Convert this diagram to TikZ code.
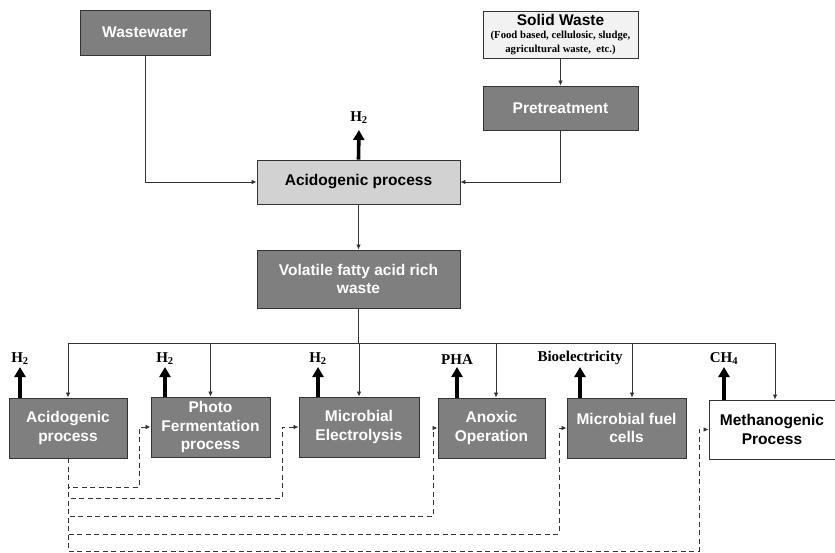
\documentclass[tikz,border=0pt]{standalone}
\usepackage{fontspec}
\setmainfont{Liberation Serif}
\setsansfont{Liberation Sans}
\usepackage{xcolor}
\usetikzlibrary{arrows.meta,positioning}

\definecolor{boxgray}{HTML}{7F7F7F}
\definecolor{boxlight}{HTML}{D2D2D2}
\definecolor{boxpale}{HTML}{F2F2F2}
\definecolor{edgegray}{HTML}{333333}
\newcommand\wastefont{\rmfamily\bfseries\fontsize{10.7}{13.3}\selectfont}

\tikzset{
 procbox/.style={draw=edgegray,line width=0.9pt,fill=boxgray,text=white,align=center,inner sep=1pt,
  font=\sffamily\bfseries\fontsize{15.5}{18.5}\selectfont},
 lightbox/.style={procbox,fill=boxlight,text=black},
 whitebox/.style={procbox,fill=white,text=black},
 flow/.style={draw=edgegray,line width=0.8pt,-{Latex[length=5pt,width=4.5pt]}},
 recycle/.style={flow,dash pattern=on 5pt off 3.5pt},
 gas/.style={draw=black,line width=3.6pt,-{Triangle[length=10pt,width=11pt]},shorten >=1pt},
 gaslabel/.style={font=\bfseries\fontsize{15}{17}\selectfont,inner sep=1pt,anchor=south}
}

\begin{document}
\begin{tikzpicture}[x=1pt,y=-1pt]
 \useasboundingbox (0,0) rectangle (835,552);
 % feed and first stage
 \node[procbox,minimum width=130pt,minimum height=45pt] (ww) at (145,32.5) {Wastewater};
 \node[procbox,fill=boxpale,text=black,font=\wastefont,minimum width=155pt,minimum height=47pt] (solid) at (560.5,34.5)
  {{\sffamily\fontsize{15.5}{13.3}\selectfont Solid Waste}\\(Food based, cellulosic, sludge,\\agricultural waste,~ etc.)};
 \node[procbox,minimum width=155pt,minimum height=44pt] (pre) at (560.5,108) {Pretreatment};
 \node[lightbox,minimum width=203pt,minimum height=44pt] (acid) at (358.5,182) {Acidogenic process};
 \node[procbox,minimum width=203pt,minimum height=58pt] (vfa) at (358.5,279) {Volatile fatty acid rich\\waste};
 \node[gaslabel] (h2top) at (359,125) {H\textsubscript{2}};

 \draw[flow] (ww.south) |- (acid.west);
 \draw[flow] (solid) -- (pre);
 \draw[flow] (pre.south) |- (acid.east);
 \draw[flow] (acid) -- (vfa);
 \draw[gas,shorten >=5pt] (acid.north) -- (h2top.south);

 % second stage
 \node[procbox,minimum width=118pt,minimum height=60pt] (acid2) at (68,428) {Acidogenic\\process};
 \node[procbox,minimum width=119pt,minimum height=60pt] (photo) at (210.5,427) {Photo\\Fermentation\\process};
 \node[procbox,minimum width=120pt,minimum height=60pt] (mec) at (359,427) {Microbial\\Electrolysis};
 \node[procbox,minimum width=107pt,minimum height=60pt] (anox) at (491.5,428) {Anoxic\\Operation};
 \node[procbox,minimum width=119pt,minimum height=60pt] (mfc) at (626.5,428) {Microbial fuel\\cells};
 \node[whitebox,minimum width=126pt,minimum height=59pt] (meth) at (772,429.5) {Methanogenic\\Process};

 \node[gaslabel] (h2a) at (20,366) {H\textsubscript{2}};
 \node[gaslabel] (h2b) at (165,366) {H\textsubscript{2}};
 \node[gaslabel] (h2c) at (318,366) {H\textsubscript{2}};
 \node[gaslabel] (pha) at (457,366) {PHA};
 \node[gaslabel] (bioel) at (580,366) {Bioelectricity};
 \node[gaslabel] (ch4) at (724,366) {CH\textsubscript{4}};

 \draw[gas] (h2a |- acid2.north) -- (h2a.south);
 \draw[gas] (h2b |- photo.north) -- (h2b.south);
 \draw[gas] (h2c |- mec.north) -- (h2c.south);
 \draw[gas] (pha |- anox.north) -- (pha.south);
 \draw[gas] (bioel |- mfc.north) -- (bioel.south);
 \draw[gas] (ch4 |- meth.north) -- (ch4.south);

 % distribution line
 \coordinate (busL) at (68,343);
 \coordinate (busR) at (775,343);
 \draw[edgegray,line width=0.8pt] (vfa.south) -- (vfa.south |- busL);
 \draw[edgegray,line width=0.8pt] (busL) -- (busR);
 \draw[flow] (busL) -- (acid2.north);
 \draw[flow] (busL -| photo.north) -- (photo.north);
 \draw[flow] (busL -| mec.north) -- (mec.north);
 \draw[flow] ([xshift=4.5pt]anox.north |- busL) -- ([xshift=4.5pt]anox.north);
 \draw[flow] ([xshift=5.5pt]mfc.north |- busL) -- ([xshift=5.5pt]mfc.north);
 \draw[flow] (busR) -- (busR |- meth.north);

 % recycle of acidogenic effluent
 \coordinate (d1) at (139,487);
 \coordinate (d2) at (282,498);
 \coordinate (d3) at (433,516);
 \coordinate (d4) at (559,534);
 \coordinate (d5) at (699,551);
 \draw[recycle] (acid2.south) |- (d1) |- (photo.west);
 \draw[recycle] (acid2.south) |- (d2) |- (mec.west);
 \draw[recycle] (acid2.south) |- (d3) |- (anox.west);
 \draw[recycle] (acid2.south) |- (d4) |- (mfc.west);
 \draw[recycle] (acid2.south) |- (d5) |- (meth.west);
\end{tikzpicture}
\end{document}
